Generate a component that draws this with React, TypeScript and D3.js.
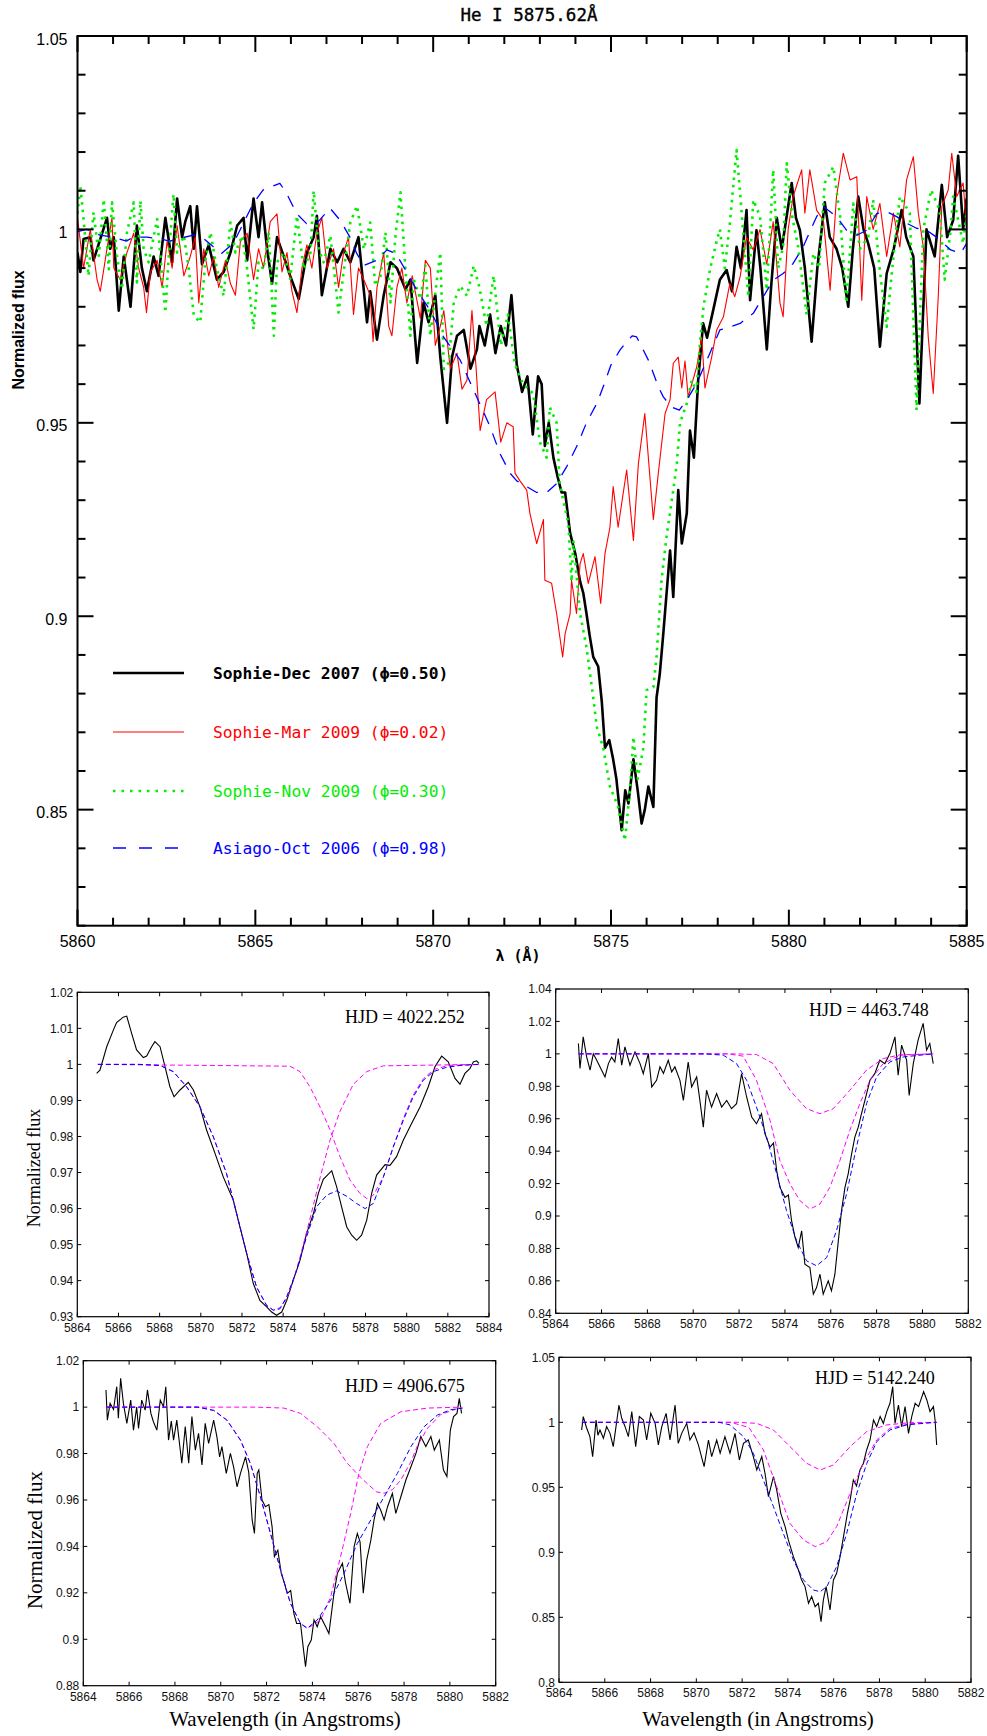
import * as d3 from 'd3'

type Pt = [number, number]

// ---- top panel: He I 5875.62 spectra [wavelength (Å), normalized flux]
const dec2007: Pt[] = [
  [5860.0, 0.994], [5860.08, 0.989], [5860.17, 0.9975], [5860.36, 0.998], [5860.45, 0.992], [5860.64, 0.9975],
  [5860.83, 1.003], [5860.92, 0.995], [5861.02, 0.998], [5861.16, 0.979], [5861.3, 0.993], [5861.49, 0.98],
  [5861.67, 1.001], [5861.81, 0.99], [5861.95, 0.984], [5862.14, 0.993], [5862.28, 0.988], [5862.47, 1.003],
  [5862.66, 0.9915], [5862.8, 1.008], [5862.94, 0.998], [5863.03, 1.002], [5863.17, 1.006], [5863.27, 0.995],
  [5863.36, 1.006], [5863.5, 0.991], [5863.69, 0.996], [5863.92, 0.987], [5864.11, 0.989], [5864.3, 0.994],
  [5864.49, 1.001], [5864.67, 1.003], [5864.77, 0.992], [5864.95, 1.008], [5865.09, 0.998], [5865.19, 1.007],
  [5865.33, 0.995], [5865.47, 0.986], [5865.61, 0.998], [5865.8, 0.993], [5865.98, 0.988], [5866.22, 0.982],
  [5866.45, 0.994], [5866.64, 0.998], [5866.73, 1.0035], [5866.87, 0.983], [5867.11, 0.995], [5867.3, 0.9915],
  [5867.48, 0.995], [5867.67, 0.9915], [5867.9, 0.998], [5868.14, 0.976], [5868.23, 0.984], [5868.42, 0.9715],
  [5868.61, 0.983], [5868.8, 0.9915], [5868.98, 0.99], [5869.22, 0.9845], [5869.36, 0.987], [5869.55, 0.9655],
  [5869.73, 0.981], [5869.87, 0.976], [5870.06, 0.983], [5870.2, 0.967], [5870.39, 0.95], [5870.53, 0.967],
  [5870.67, 0.9725], [5870.86, 0.974], [5871.05, 0.964], [5871.23, 0.969], [5871.3, 0.975], [5871.45, 0.97],
  [5871.6, 0.978], [5871.75, 0.968], [5871.9, 0.975], [5872.05, 0.97], [5872.2, 0.983], [5872.35, 0.965],
  [5872.5, 0.958], [5872.65, 0.962], [5872.8, 0.947], [5872.95, 0.962], [5873.05, 0.96], [5873.14, 0.944],
  [5873.25, 0.95], [5873.38, 0.941], [5873.5, 0.936], [5873.61, 0.932], [5873.71, 0.932], [5873.85, 0.9215],
  [5874.0, 0.916], [5874.13, 0.909], [5874.22, 0.906], [5874.31, 0.9007], [5874.4, 0.895], [5874.5, 0.8895],
  [5874.64, 0.887], [5874.74, 0.878], [5874.83, 0.866], [5874.95, 0.868], [5875.06, 0.863], [5875.15, 0.858],
  [5875.3, 0.8447], [5875.4, 0.855], [5875.49, 0.8516], [5875.63, 0.863], [5875.75, 0.855], [5875.86, 0.8464],
  [5875.95, 0.85], [5876.05, 0.856], [5876.19, 0.8507], [5876.28, 0.879], [5876.37, 0.885], [5876.47, 0.8955],
  [5876.66, 0.917], [5876.75, 0.905], [5876.89, 0.9326], [5876.99, 0.9188], [5877.13, 0.9266], [5877.22, 0.948],
  [5877.33, 0.941], [5877.45, 0.961], [5877.59, 0.9757], [5877.7, 0.972], [5877.87, 0.979], [5878.06, 0.987],
  [5878.25, 0.9895], [5878.4, 0.984], [5878.53, 0.9955], [5878.65, 0.99], [5878.81, 1.005], [5878.91, 0.9817],
  [5879.09, 0.9998], [5879.2, 0.99], [5879.38, 0.969], [5879.5, 0.985], [5879.66, 1.003], [5879.8, 0.995],
  [5880.08, 1.012], [5880.2, 1.003], [5880.31, 0.9998], [5880.45, 0.99], [5880.64, 0.971], [5880.8, 0.99],
  [5881.01, 1.007], [5881.15, 0.998], [5881.34, 0.995], [5881.5, 0.99], [5881.67, 0.98], [5881.8, 0.995],
  [5881.95, 1.0085], [5882.1, 1.0], [5882.23, 0.9964], [5882.4, 0.99], [5882.56, 0.9697], [5882.75, 0.9886],
  [5882.95, 0.995], [5883.17, 1.005], [5883.3, 0.998], [5883.5, 0.993], [5883.67, 0.955], [5883.87, 1.0],
  [5884.1, 0.993], [5884.3, 1.0115], [5884.45, 0.998], [5884.62, 1.0024], [5884.76, 1.019], [5884.9, 1.0],
  [5885.0, 1.008],
]

const mar2009: Pt[] = [
  [5860.0, 1.003], [5860.17, 0.99], [5860.36, 1.0], [5860.55, 0.987], [5860.64, 0.984], [5860.83, 0.995],
  [5860.97, 1.003], [5861.02, 0.99], [5861.2, 0.987], [5861.39, 0.994], [5861.58, 0.999], [5861.72, 0.99],
  [5861.86, 0.985], [5861.94, 0.9785], [5862.05, 0.989], [5862.24, 0.992], [5862.38, 0.985], [5862.52, 0.997],
  [5862.66, 0.99], [5862.8, 1.001], [5862.99, 0.988], [5863.17, 0.993], [5863.31, 0.998], [5863.41, 0.981],
  [5863.55, 0.995], [5863.69, 0.988], [5863.83, 0.993], [5863.97, 0.985], [5864.16, 0.992], [5864.3, 0.986],
  [5864.44, 0.983], [5864.58, 0.997], [5864.77, 0.999], [5864.95, 0.987], [5865.09, 0.995], [5865.23, 0.99],
  [5865.42, 1.002], [5865.61, 1.004], [5865.75, 0.989], [5865.89, 0.994], [5866.03, 0.984], [5866.17, 0.9785],
  [5866.31, 0.99], [5866.45, 0.996], [5866.59, 0.99], [5866.73, 0.999], [5866.87, 1.003], [5867.02, 0.99],
  [5867.2, 0.995], [5867.34, 0.985], [5867.48, 0.994], [5867.62, 0.998], [5867.76, 0.978], [5867.9, 0.99],
  [5868.05, 0.987], [5868.23, 0.983], [5868.31, 0.971], [5868.42, 0.985], [5868.61, 0.994], [5868.75, 0.975],
  [5868.84, 0.9725], [5868.98, 0.985], [5869.12, 0.99], [5869.26, 0.981], [5869.41, 0.988], [5869.64, 0.977],
  [5869.78, 0.992], [5869.92, 0.99], [5870.06, 0.97], [5870.2, 0.975], [5870.3, 0.979], [5870.48, 0.964],
  [5870.67, 0.968], [5870.81, 0.9587], [5870.95, 0.961], [5871.09, 0.979], [5871.2, 0.965], [5871.32, 0.948],
  [5871.5, 0.956], [5871.74, 0.958], [5871.9, 0.945], [5872.07, 0.95], [5872.25, 0.949], [5872.3, 0.937],
  [5872.44, 0.935], [5872.63, 0.9326], [5872.72, 0.9266], [5872.91, 0.9188], [5873.1, 0.925], [5873.14, 0.9093],
  [5873.33, 0.9085], [5873.47, 0.9007], [5873.56, 0.8947], [5873.64, 0.8895], [5873.71, 0.8955], [5873.85, 0.9007],
  [5873.89, 0.9093], [5874.03, 0.9007], [5874.13, 0.9136], [5874.22, 0.9162], [5874.36, 0.9085], [5874.55, 0.9154],
  [5874.71, 0.9033], [5874.83, 0.9162], [5874.97, 0.923], [5875.06, 0.9335], [5875.2, 0.923], [5875.44, 0.9378],
  [5875.63, 0.9196], [5875.77, 0.9395], [5875.95, 0.9524], [5876.19, 0.925], [5876.33, 0.937], [5876.52, 0.9524],
  [5876.66, 0.956], [5876.75, 0.9654], [5876.89, 0.967], [5876.99, 0.959], [5877.08, 0.966], [5877.17, 0.9567],
  [5877.41, 0.9645], [5877.55, 0.9722], [5877.64, 0.959], [5877.83, 0.967], [5877.97, 0.974], [5878.16, 0.9774],
  [5878.34, 0.986], [5878.48, 0.9826], [5878.63, 0.9878], [5878.81, 0.998], [5879.0, 0.9947], [5879.19, 1.0],
  [5879.38, 0.991], [5879.56, 1.002], [5879.75, 0.981], [5879.84, 0.9774], [5879.98, 1.0], [5880.12, 1.0085],
  [5880.36, 1.0154], [5880.45, 1.0042], [5880.59, 1.0154], [5880.78, 1.005], [5880.97, 1.0024], [5881.16, 0.9843],
  [5881.34, 1.0085], [5881.53, 1.0197], [5881.72, 1.0128], [5881.91, 1.0136], [5882.05, 0.9817], [5882.19, 1.0085],
  [5882.37, 1.0], [5882.56, 1.0067], [5882.75, 0.993], [5882.94, 1.0042], [5883.12, 0.9955], [5883.31, 1.0128],
  [5883.5, 1.0188], [5883.64, 1.0042], [5883.78, 0.9955], [5883.92, 0.972], [5884.06, 0.9576], [5884.2, 0.9826],
  [5884.3, 1.0059], [5884.48, 1.0102], [5884.58, 1.0197], [5884.72, 1.0085], [5884.9, 1.012], [5885.0, 1.0],
]

const nov2009: Pt[] = [
  [5860.0, 1.004], [5860.08, 1.0113], [5860.17, 1.0027], [5860.31, 0.988], [5860.45, 1.0044], [5860.6, 0.9932],
  [5860.74, 1.0078], [5860.88, 0.9897], [5860.97, 1.007], [5861.11, 0.9932], [5861.25, 0.9846], [5861.39, 0.9992],
  [5861.58, 1.007], [5861.67, 0.9863], [5861.77, 1.0074], [5861.86, 0.9949], [5862.0, 0.9915], [5862.24, 1.0027],
  [5862.47, 0.9785], [5862.56, 0.9923], [5862.7, 1.0091], [5862.8, 0.994], [5862.99, 0.9984], [5863.13, 0.9897],
  [5863.27, 0.9777], [5863.45, 0.976], [5863.6, 0.9923], [5863.74, 0.9992], [5863.92, 0.9897], [5864.11, 0.9828],
  [5864.3, 1.0018], [5864.44, 0.994], [5864.63, 0.9984], [5864.77, 0.9897], [5864.95, 0.9742], [5865.09, 0.9915],
  [5865.23, 0.9897], [5865.38, 0.9992], [5865.52, 0.9725], [5865.61, 0.9915], [5865.8, 0.994], [5865.98, 0.9872],
  [5866.17, 1.0035], [5866.36, 0.9897], [5866.55, 0.994], [5866.64, 1.01], [5866.78, 0.9949], [5866.92, 0.9915],
  [5867.11, 0.9984], [5867.34, 0.9785], [5867.48, 0.9889], [5867.67, 1.0018], [5867.86, 1.0061], [5868.05, 0.9949],
  [5868.23, 1.0018], [5868.37, 0.9854], [5868.52, 0.988], [5868.66, 0.9992], [5868.8, 0.9811], [5868.94, 0.9984],
  [5869.08, 1.0096], [5869.22, 0.9897], [5869.36, 0.9725], [5869.45, 0.9872], [5869.64, 0.982], [5869.78, 0.9906],
  [5869.92, 0.9725], [5870.06, 0.9837], [5870.2, 0.994], [5870.3, 0.9639], [5870.44, 0.9656], [5870.58, 0.9811],
  [5870.76, 0.9854], [5870.95, 0.9828], [5871.14, 0.9906], [5871.3, 0.985], [5871.5, 0.975], [5871.7, 0.988],
  [5871.9, 0.97], [5872.1, 0.978], [5872.3, 0.965], [5872.53, 0.96], [5872.81, 0.9576], [5873.0, 0.945],
  [5873.19, 0.941], [5873.28, 0.954], [5873.47, 0.95], [5873.56, 0.934], [5873.8, 0.924], [5873.89, 0.909],
  [5873.94, 0.9196], [5874.13, 0.9007], [5874.31, 0.892], [5874.5, 0.879], [5874.6, 0.8714], [5874.78, 0.866],
  [5874.97, 0.856], [5875.2, 0.8507], [5875.39, 0.842], [5875.53, 0.8547], [5875.63, 0.8688], [5875.75, 0.858],
  [5875.91, 0.866], [5876.0, 0.8809], [5876.19, 0.8817], [5876.28, 0.8895], [5876.42, 0.9093], [5876.56, 0.9205],
  [5876.75, 0.9326], [5876.85, 0.9395], [5876.94, 0.95], [5877.13, 0.955], [5877.27, 0.961], [5877.4, 0.958],
  [5877.5, 0.9705], [5877.6, 0.98], [5877.78, 0.9895], [5877.97, 0.997], [5878.06, 1.0], [5878.2, 0.99],
  [5878.34, 1.0015], [5878.53, 1.0205], [5878.63, 1.0093], [5878.86, 0.9826], [5879.0, 1.0076], [5879.19, 1.0033],
  [5879.38, 0.9843], [5879.56, 1.0154], [5879.7, 0.99], [5879.84, 0.9955], [5879.94, 1.0171], [5880.1, 1.003],
  [5880.26, 0.9955], [5880.5, 0.978], [5880.69, 0.9938], [5880.85, 0.99], [5881.01, 1.012], [5881.25, 1.0162],
  [5881.44, 1.0033], [5881.62, 0.981], [5881.81, 1.0067], [5882.0, 0.995], [5882.23, 0.998], [5882.37, 1.0076],
  [5882.55, 0.99], [5882.75, 0.9748], [5882.94, 0.993], [5883.12, 1.0085], [5883.4, 1.0042], [5883.59, 0.9533],
  [5883.78, 1.0], [5884.0, 1.0102], [5884.24, 1.005], [5884.38, 0.987], [5884.55, 1.0], [5884.62, 1.0085],
  [5884.9, 0.9964], [5885.0, 1.005],
]

const oct2006: Pt[] = [
  [5860.0, 0.9994], [5860.26, 1.0], [5860.63, 0.9985], [5861.0, 0.998], [5861.38, 0.997], [5861.57, 0.998],
  [5861.95, 0.998], [5862.23, 0.9977], [5862.6, 0.997], [5862.88, 0.9977], [5863.26, 0.9985], [5863.54, 0.9977],
  [5863.82, 0.9955], [5864.05, 0.9938], [5864.38, 0.9964], [5864.66, 1.0015], [5864.94, 1.0067], [5865.22, 1.0102],
  [5865.69, 1.0119], [5865.88, 1.0093], [5866.16, 1.0041], [5866.44, 1.0015], [5866.72, 1.0015], [5867.1, 1.0055],
  [5867.38, 1.0024], [5867.66, 0.998], [5867.85, 0.9938], [5868.05, 0.9907], [5868.41, 0.992], [5868.7, 0.9947],
  [5868.95, 0.9938], [5869.22, 0.9895], [5869.54, 0.9843], [5869.92, 0.979], [5870.29, 0.9722], [5870.76, 0.9662],
  [5871.14, 0.9584], [5871.6, 0.949], [5871.88, 0.942], [5872.16, 0.937], [5872.35, 0.935], [5872.63, 0.9335],
  [5872.91, 0.932], [5873.19, 0.932], [5873.47, 0.9343], [5873.75, 0.9386], [5874.03, 0.9438], [5874.31, 0.95],
  [5874.6, 0.955], [5874.78, 0.9593], [5875.0, 0.965], [5875.25, 0.9688], [5875.44, 0.971], [5875.6, 0.9725],
  [5875.72, 0.9722], [5875.86, 0.9697], [5876.05, 0.9662], [5876.19, 0.9628], [5876.33, 0.9593], [5876.47, 0.9567],
  [5876.7, 0.9541], [5876.92, 0.9533], [5877.13, 0.9559], [5877.41, 0.9602], [5877.78, 0.968], [5878.06, 0.974],
  [5878.34, 0.9748], [5878.63, 0.9757], [5879.0, 0.9783], [5879.28, 0.9826], [5879.56, 0.9869], [5879.84, 0.9886],
  [5880.12, 0.9912], [5880.4, 0.9955], [5880.78, 1.0033], [5880.97, 1.0059], [5881.34, 1.0033], [5881.62, 0.9998],
  [5881.91, 0.9985], [5882.19, 0.9998], [5882.47, 1.0041], [5882.75, 1.0046], [5883.03, 1.0033], [5883.31, 1.0016],
  [5883.59, 1.0003], [5883.87, 0.9998], [5884.15, 0.998], [5884.55, 0.9947], [5884.83, 0.9938], [5885.0, 0.9964],
]

const mainTitle = 'He I 5875.62Å'
const mainXTicks = [5860, 5865, 5870, 5875, 5880, 5885]
const mainYTicks = [0.85, 0.9, 0.95, 1, 1.05]
const legendLabels = [
  'Sophie-Dec 2007 (ϕ=0.50)',
  'Sophie-Mar 2009 (ϕ=0.02)',
  'Sophie-Nov 2009 (ϕ=0.30)',
  'Asiago-Oct 2006 (ϕ=0.98)',
]

// ---- panel A, HJD 4022.252
const obsA: Pt[] = [
  [5864.94, 0.9975], [5865.1, 0.9984], [5865.43, 1.0049], [5865.75, 1.0095], [5865.91, 1.0116], [5866.23, 1.0131],
  [5866.4, 1.0134], [5866.64, 1.0086], [5866.88, 1.004], [5867.21, 1.0019], [5867.37, 1.0023], [5867.61, 1.0049],
  [5867.77, 1.0063], [5868.02, 1.0049], [5868.26, 0.9994], [5868.5, 0.9938], [5868.7, 0.991], [5868.99, 0.9929],
  [5869.39, 0.995], [5869.64, 0.9929], [5869.96, 0.9882], [5870.28, 0.9818], [5870.69, 0.9753], [5871.09, 0.9688],
  [5871.58, 0.9623], [5871.9, 0.9549], [5872.23, 0.9475], [5872.55, 0.9392], [5872.87, 0.9345], [5873.2, 0.9327],
  [5873.44, 0.9313], [5873.68, 0.9304], [5873.93, 0.9313], [5874.17, 0.9345], [5874.49, 0.9401], [5874.82, 0.9457],
  [5875.14, 0.9531], [5875.47, 0.9586], [5875.71, 0.9642], [5875.95, 0.9681], [5876.36, 0.9705], [5876.6, 0.966],
  [5876.84, 0.9605], [5877.09, 0.9549], [5877.33, 0.9526], [5877.57, 0.9512], [5877.81, 0.9526], [5878.06, 0.9568],
  [5878.3, 0.9642], [5878.54, 0.9693], [5878.95, 0.9722], [5879.19, 0.972], [5879.51, 0.9744], [5879.84, 0.979],
  [5880.24, 0.9836], [5880.65, 0.9882], [5881.05, 0.9938], [5881.38, 0.9994], [5881.7, 1.0023], [5882.02, 1.0007],
  [5882.35, 0.9961], [5882.59, 0.9945], [5882.83, 0.9975], [5883.08, 0.9989], [5883.24, 1.0007], [5883.4, 1.001],
  [5883.51, 1.0003],
]
const fitA: Pt[] = [
  [5865.0, 1.0], [5867.0, 1.0], [5868.02, 0.9997], [5868.66, 0.998], [5869.31, 0.9938], [5869.96, 0.9882],
  [5870.61, 0.9799], [5871.25, 0.9697], [5871.74, 0.9586], [5872.23, 0.9475], [5872.71, 0.9382], [5873.2, 0.9331],
  [5873.52, 0.9318], [5873.85, 0.9322], [5874.17, 0.9355], [5874.66, 0.9429], [5875.14, 0.9522], [5875.63, 0.9605],
  [5876.11, 0.9637], [5876.6, 0.9649], [5877.09, 0.9634], [5877.57, 0.9614], [5877.98, 0.96], [5878.38, 0.9614],
  [5878.87, 0.9688], [5879.35, 0.9771], [5879.84, 0.9845], [5880.32, 0.991], [5880.81, 0.9956], [5881.3, 0.998],
  [5881.94, 0.9992], [5882.59, 0.9997], [5883.48, 1.0],
]
const compA1: Pt[] = [
  [5865.0, 1.0], [5867.0, 1.0], [5868.02, 0.9997], [5868.66, 0.998], [5869.31, 0.9938], [5869.96, 0.9882],
  [5870.61, 0.9799], [5871.25, 0.9697], [5871.74, 0.9586], [5872.23, 0.9475], [5872.71, 0.9382], [5873.2, 0.9331],
  [5873.52, 0.9318], [5873.85, 0.9325], [5874.17, 0.935], [5874.49, 0.94], [5874.82, 0.9465], [5875.14, 0.9535],
  [5875.47, 0.961], [5875.79, 0.9685], [5876.28, 0.979], [5876.76, 0.987], [5877.41, 0.9945], [5878.06, 0.998],
  [5878.87, 0.9996], [5883.5, 1.0],
]
const compA2: Pt[] = [
  [5865.0, 1.0], [5874.33, 0.9995], [5874.82, 0.998], [5875.3, 0.9938], [5875.79, 0.9882], [5876.28, 0.9818],
  [5876.76, 0.9744], [5877.25, 0.9679], [5877.73, 0.9642], [5878.06, 0.9628], [5878.38, 0.9637], [5878.87, 0.9688],
  [5879.35, 0.9771], [5879.84, 0.985], [5880.32, 0.9915], [5880.81, 0.996], [5881.3, 0.9985], [5882.0, 0.9997],
  [5883.5, 1.0],
]

// ---- panel B, HJD 4463.748
const obsB: Pt[] = [
  [5864.99, 1.0064], [5865.06, 0.991], [5865.2, 1.0105], [5865.35, 0.9981], [5865.5, 0.99], [5865.64, 1.0], [5865.79, 0.9961],
  [5866.0, 0.99], [5866.15, 0.9858], [5866.3, 0.994], [5866.44, 0.998], [5866.58, 0.995], [5866.73, 1.0095], [5866.88, 0.993],
  [5867.02, 1.0043], [5867.24, 0.993], [5867.46, 1.0012], [5867.68, 0.994], [5867.82, 0.9878], [5868.04, 1.0002],
  [5868.19, 0.9796], [5868.4, 0.9837], [5868.55, 0.992], [5868.7, 0.988], [5868.91, 0.996], [5869.06, 0.9889],
  [5869.2, 0.992], [5869.42, 0.9837], [5869.57, 0.9713], [5869.78, 0.995], [5869.93, 0.9796], [5870.15, 0.9858],
  [5870.29, 0.9713], [5870.44, 0.9548], [5870.58, 0.9776], [5870.8, 0.9672], [5871.02, 0.9755], [5871.24, 0.9672],
  [5871.46, 0.9713], [5871.67, 0.9662], [5871.89, 0.9693], [5872.11, 0.9878], [5872.33, 0.9734], [5872.55, 0.961],
  [5872.76, 0.9569], [5872.98, 0.9631], [5873.13, 0.9507], [5873.35, 0.9425], [5873.5, 0.945], [5873.64, 0.928],
  [5873.78, 0.9178], [5874.0, 0.9115], [5874.15, 0.913], [5874.29, 0.8971], [5874.44, 0.8868], [5874.58, 0.8806],
  [5874.73, 0.8909], [5874.87, 0.8703], [5875.09, 0.8682], [5875.24, 0.8518], [5875.38, 0.8559], [5875.53, 0.8641],
  [5875.67, 0.8518], [5875.89, 0.86], [5876.03, 0.8538], [5876.18, 0.8641], [5876.33, 0.8847], [5876.47, 0.9033],
  [5876.62, 0.9177], [5876.76, 0.926], [5876.91, 0.9383], [5877.05, 0.9487], [5877.2, 0.9548], [5877.34, 0.9631],
  [5877.49, 0.9713], [5877.71, 0.9837], [5877.92, 0.9878], [5878.14, 0.9961], [5878.36, 0.994], [5878.58, 1.0002],
  [5878.8, 1.0105], [5878.94, 0.9868], [5879.09, 1.0054], [5879.31, 0.996], [5879.42, 0.9744], [5879.6, 0.994],
  [5879.81, 1.0085], [5880.03, 1.0188], [5880.18, 1.0023], [5880.32, 1.0064], [5880.47, 0.994],
]
const fitB: Pt[] = [
  [5865.0, 1.0], [5870.5, 1.0], [5871.31, 0.9992], [5871.89, 0.994], [5872.33, 0.9837], [5872.76, 0.9672],
  [5873.2, 0.9487], [5873.64, 0.926], [5874.07, 0.9033], [5874.51, 0.8847], [5874.94, 0.8724], [5875.38, 0.8693],
  [5875.82, 0.8744], [5876.25, 0.8909], [5876.69, 0.9136], [5877.12, 0.9425], [5877.56, 0.9693], [5878.0, 0.9858],
  [5878.58, 0.995], [5879.16, 0.9981], [5880.03, 0.9994], [5880.47, 1.0],
]
const compB1: Pt[] = [
  [5865.0, 1.0], [5871.5, 1.0], [5872.18, 0.9986], [5872.76, 0.9837], [5873.35, 0.959], [5873.78, 0.9342],
  [5874.22, 0.9198], [5874.65, 0.9095], [5875.09, 0.9043], [5875.53, 0.9074], [5875.96, 0.9177], [5876.4, 0.9342],
  [5876.83, 0.9528], [5877.27, 0.9693], [5877.71, 0.9837], [5878.29, 0.994], [5879.02, 0.9992], [5880.47, 1.0],
]
const compB2: Pt[] = [
  [5865.0, 1.0], [5871.8, 1.0], [5872.76, 0.9996], [5873.49, 0.994], [5874.22, 0.9775], [5874.94, 0.9662],
  [5875.53, 0.9631], [5876.11, 0.9662], [5876.83, 0.9775], [5877.56, 0.99], [5878.29, 0.9971], [5879.02, 0.9994],
  [5880.47, 1.0],
]

// ---- panel C, HJD 4906.675
const obsC: Pt[] = [
  [5864.99, 1.0074], [5865.05, 0.9944], [5865.17, 1.0016], [5865.32, 0.999], [5865.46, 1.0088], [5865.53, 0.9952],
  [5865.63, 1.0124], [5865.75, 1.0016], [5865.9, 0.993], [5866.07, 1.003], [5866.19, 0.9901], [5866.33, 1.0],
  [5866.41, 0.9908], [5866.55, 1.003], [5866.7, 0.9987], [5866.8, 1.0074], [5866.95, 0.9973], [5867.06, 0.9937],
  [5867.21, 0.9901], [5867.36, 1.003], [5867.5, 1.0002], [5867.6, 1.0088], [5867.72, 0.9858], [5867.84, 0.994],
  [5867.94, 0.9858], [5868.08, 0.9944], [5868.3, 0.9758], [5868.45, 0.9916], [5868.6, 0.9758], [5868.74, 0.9959],
  [5868.89, 0.9815], [5869.03, 0.9887], [5869.18, 0.9751], [5869.32, 0.993], [5869.47, 0.9844], [5869.69, 0.9944],
  [5869.83, 0.9873], [5869.95, 0.9786], [5870.05, 0.983], [5870.24, 0.9715], [5870.42, 0.9801], [5870.56, 0.9743],
  [5870.71, 0.9657], [5870.86, 0.9715], [5871.08, 0.9786], [5871.22, 0.972], [5871.37, 0.9514], [5871.47, 0.9456],
  [5871.59, 0.9715], [5871.66, 0.9729], [5871.8, 0.96], [5871.95, 0.9571], [5872.1, 0.958], [5872.24, 0.9485],
  [5872.34, 0.9356], [5872.49, 0.9384], [5872.64, 0.9284], [5872.78, 0.9241], [5872.9, 0.9198], [5873.05, 0.921],
  [5873.19, 0.9111], [5873.31, 0.9068], [5873.48, 0.9068], [5873.63, 0.8939], [5873.7, 0.8882], [5873.8, 0.8968],
  [5873.95, 0.8997], [5874.07, 0.9083], [5874.21, 0.9054], [5874.36, 0.9097], [5874.58, 0.9054], [5874.72, 0.9025],
  [5874.94, 0.9198], [5875.09, 0.9284], [5875.31, 0.9327], [5875.45, 0.9241], [5875.64, 0.9155], [5875.82, 0.9399],
  [5875.96, 0.9456], [5876.08, 0.942], [5876.22, 0.9198], [5876.37, 0.9341], [5876.55, 0.9427], [5876.69, 0.9514],
  [5876.84, 0.9585], [5876.98, 0.9557], [5877.13, 0.9514], [5877.28, 0.9571], [5877.49, 0.9628], [5877.64, 0.9542],
  [5877.86, 0.9614], [5878.08, 0.9686], [5878.3, 0.9743], [5878.52, 0.9801], [5878.73, 0.9873], [5878.95, 0.983],
  [5879.17, 0.9873], [5879.32, 0.9815], [5879.54, 0.9858], [5879.72, 0.9729], [5879.87, 0.9701], [5880.02, 0.9901],
  [5880.16, 0.9959], [5880.31, 0.9973], [5880.41, 1.0038], [5880.51, 0.9973],
]
const fitC: Pt[] = [
  [5865.0, 1.0], [5869.0, 1.0], [5869.69, 0.9986], [5870.27, 0.9944], [5870.86, 0.9858], [5871.29, 0.9758],
  [5871.73, 0.9614], [5872.17, 0.9456], [5872.61, 0.9298], [5873.04, 0.9155], [5873.48, 0.9068], [5873.77, 0.9047],
  [5874.21, 0.9083], [5874.8, 0.9169], [5875.38, 0.9284], [5875.96, 0.9413], [5876.55, 0.9514], [5877.13, 0.9614],
  [5877.71, 0.9715], [5878.3, 0.983], [5878.88, 0.9916], [5879.46, 0.9966], [5880.04, 0.9989], [5880.56, 0.9996],
]
const compC1: Pt[] = [
  [5865.0, 1.0], [5869.0, 1.0], [5869.69, 0.9986], [5870.27, 0.9944], [5870.86, 0.9858], [5871.29, 0.9758],
  [5871.73, 0.9614], [5872.17, 0.9456], [5872.61, 0.9298], [5873.04, 0.9155], [5873.48, 0.9068], [5873.8, 0.9048],
  [5874.36, 0.9083], [5874.8, 0.9184], [5875.23, 0.9356], [5875.67, 0.9542], [5876.03, 0.9715], [5876.4, 0.983],
  [5876.98, 0.993], [5877.86, 0.998], [5879.03, 0.9996], [5880.5, 1.0],
]
const compC2: Pt[] = [
  [5865.0, 1.0], [5871.5, 1.0], [5872.75, 0.9996], [5873.48, 0.9973], [5874.21, 0.9916], [5874.94, 0.9844],
  [5875.52, 0.9758], [5876.03, 0.9705], [5876.4, 0.967], [5876.8, 0.9635], [5877.13, 0.9629], [5877.5, 0.9645],
  [5877.86, 0.9686], [5878.3, 0.9765], [5878.59, 0.9835], [5879.03, 0.991], [5879.6, 0.9968], [5880.5, 1.0],
]

// ---- panel D, HJD 5142.240
const obsD: Pt[] = [
  [5864.99, 0.9941], [5865.06, 1.0044], [5865.2, 0.996], [5865.35, 0.989], [5865.47, 0.9736], [5865.62, 1.0018],
  [5865.7, 0.99], [5865.79, 0.9941], [5865.94, 0.9877], [5866.08, 0.9967], [5866.23, 0.9915], [5866.37, 0.9813],
  [5866.49, 0.9967], [5866.62, 1.0133], [5866.74, 1.0031], [5866.88, 0.997], [5867.03, 0.989], [5867.18, 1.0082],
  [5867.35, 0.9813], [5867.51, 1.0044], [5867.69, 1.0018], [5867.83, 0.9864], [5868.01, 1.0069], [5868.2, 0.9992],
  [5868.34, 0.9826], [5868.49, 0.9967], [5868.68, 1.0069], [5868.85, 0.9864], [5869.07, 1.0133], [5869.21, 0.9838],
  [5869.36, 0.9915], [5869.58, 0.9992], [5869.72, 0.9864], [5869.9, 0.992], [5870.09, 0.9826], [5870.34, 0.9659],
  [5870.53, 0.9864], [5870.67, 0.9736], [5870.89, 0.9864], [5871.04, 0.9762], [5871.25, 0.989], [5871.47, 0.9762],
  [5871.69, 0.9915], [5871.88, 0.971], [5872.06, 0.9838], [5872.27, 0.9864], [5872.49, 0.9736], [5872.64, 0.9633],
  [5872.86, 0.9736], [5873.0, 0.9608], [5873.15, 0.9428], [5873.37, 0.9582], [5873.51, 0.948], [5873.69, 0.93],
  [5873.88, 0.9197], [5874.02, 0.9095], [5874.24, 0.8967], [5874.46, 0.8864], [5874.6, 0.8787], [5874.75, 0.8736],
  [5874.9, 0.8608], [5875.04, 0.866], [5875.19, 0.8582], [5875.33, 0.8608], [5875.45, 0.8467], [5875.55, 0.8634],
  [5875.67, 0.8736], [5875.84, 0.8556], [5875.99, 0.8787], [5876.13, 0.8838], [5876.28, 0.8967], [5876.43, 0.912],
  [5876.6, 0.93], [5876.72, 0.9403], [5876.86, 0.9556], [5877.0, 0.951], [5877.15, 0.9633], [5877.3, 0.9685],
  [5877.44, 0.9787], [5877.59, 0.9864], [5877.74, 1.0018], [5877.88, 0.9967], [5878.03, 1.0044], [5878.17, 0.9992],
  [5878.32, 1.0082], [5878.46, 1.0146], [5878.58, 1.0274], [5878.68, 0.9992], [5878.83, 1.0133], [5878.97, 0.9967],
  [5879.12, 1.0121], [5879.27, 0.9915], [5879.41, 1.0044], [5879.56, 1.0146], [5879.71, 1.0121], [5879.93, 1.0236],
  [5880.07, 1.0172], [5880.21, 1.0082], [5880.36, 1.0121], [5880.43, 1.0018], [5880.5, 0.9826],
]
const fitD: Pt[] = [
  [5865.0, 1.0], [5871.0, 1.0], [5871.47, 0.998], [5872.06, 0.989], [5872.49, 0.9762], [5872.93, 0.9556],
  [5873.37, 0.9351], [5873.8, 0.9146], [5874.24, 0.8941], [5874.68, 0.8787], [5875.11, 0.871], [5875.41, 0.8697],
  [5875.7, 0.8736], [5876.13, 0.889], [5876.57, 0.9146], [5877.01, 0.9454], [5877.45, 0.9685], [5877.88, 0.9851],
  [5878.46, 0.9941], [5879.19, 0.998], [5879.93, 0.9992], [5880.5, 1.0],
]
const compD1: Pt[] = [
  [5865.0, 1.0], [5871.5, 1.0], [5872.3, 0.996], [5872.93, 0.9787], [5873.51, 0.9505], [5874.09, 0.9223],
  [5874.68, 0.9095], [5875.19, 0.9044], [5875.7, 0.9082], [5876.13, 0.9197], [5876.72, 0.9454], [5877.3, 0.9685],
  [5877.88, 0.9864], [5878.46, 0.9954], [5879.34, 0.999], [5880.5, 1.0],
]
const compD2: Pt[] = [
  [5865.0, 1.0], [5871.8, 1.0], [5872.64, 0.9992], [5873.37, 0.9941], [5874.09, 0.9813], [5874.82, 0.9685],
  [5875.41, 0.9633], [5875.99, 0.9672], [5876.72, 0.9813], [5877.44, 0.9928], [5878.32, 0.998], [5879.34, 0.9997],
  [5880.5, 1.0],
]

const ticksA = { x: [5864, 5866, 5868, 5870, 5872, 5874, 5876, 5878, 5880, 5882, 5884], y: [0.93, 0.94, 0.95, 0.96, 0.97, 0.98, 0.99, 1, 1.01, 1.02] }
const ticksB = { x: [5864, 5866, 5868, 5870, 5872, 5874, 5876, 5878, 5880, 5882], y: [0.84, 0.86, 0.88, 0.9, 0.92, 0.94, 0.96, 0.98, 1, 1.02, 1.04] }
const ticksC = { x: [5864, 5866, 5868, 5870, 5872, 5874, 5876, 5878, 5880, 5882], y: [0.88, 0.9, 0.92, 0.94, 0.96, 0.98, 1, 1.02] }
const ticksD = { x: [5864, 5866, 5868, 5870, 5872, 5874, 5876, 5878, 5880, 5882], y: [0.8, 0.85, 0.9, 0.95, 1, 1.05] }

const fmt = (v: number) => String(+v.toFixed(2))
const sans = 'Liberation Sans, Arial, sans-serif'
const serif = 'Liberation Serif, Times New Roman, serif'
const mono = 'DejaVu Sans Mono, monospace'

function MainPanel() {
  const left = 77.5, right = 966.7, top = 36, bottom = 925.7
  const x = d3.scaleLinear().domain([5860, 5885]).range([left, right])
  const y = d3.scaleLinear().domain([0.82, 1.05]).range([bottom, top])
  const line = d3.line<Pt>().x((d) => x(d[0])).y((d) => y(d[1]))
  const minorX = x.ticks(25).filter((t) => !mainXTicks.includes(t))
  const minorY = y.ticks(23).filter((t) => !mainYTicks.some((m) => Math.abs(m - t) < 1e-6))
  const legendStyles = [
    { stroke: '#000', width: 2.4, dash: undefined, weight: 'bold' },
    { stroke: '#ff0000', width: 1.2, dash: undefined, weight: 'normal' },
    { stroke: '#00ee00', width: 2.6, dash: '2.5,6', weight: 'normal' },
    { stroke: '#0000ff', width: 1.3, dash: '13,13', weight: 'normal' },
  ]
  const legendY = [673, 732, 791, 848]
  return (
    <g>
      <defs>
        <clipPath id="mainclip">
          <rect x={left} y={top} width={right - left} height={bottom - top} />
        </clipPath>
      </defs>
      <text x={529} y={21} textAnchor="middle" fontFamily={mono} fontSize={17.5} stroke="#000" strokeWidth={0.35}>{mainTitle}</text>
      <g clipPath="url(#mainclip)" fill="none" strokeLinejoin="round">
        <path d={line(dec2007) ?? ''} stroke="#000" strokeWidth={2.6} />
        <path d={line(mar2009) ?? ''} stroke="#ff0000" strokeWidth={1.1} />
        <path d={line(nov2009) ?? ''} stroke="#00ee00" strokeWidth={2.6} strokeDasharray="2.5,5" />
        <path d={line(oct2006) ?? ''} stroke="#0000ff" strokeWidth={1.3} strokeDasharray="12,10" />
      </g>
      <rect x={left} y={top} width={right - left} height={bottom - top} fill="none" stroke="#000" strokeWidth={2} />
      <g stroke="#000" strokeWidth={2}>
        {mainXTicks.map((t) => (
          <g key={'mx' + t}>
            <line x1={x(t)} x2={x(t)} y1={bottom} y2={bottom - 16} />
            <line x1={x(t)} x2={x(t)} y1={top} y2={top + 16} />
          </g>
        ))}
        {minorX.map((t) => (
          <g key={'nx' + t}>
            <line x1={x(t)} x2={x(t)} y1={bottom} y2={bottom - 8} />
            <line x1={x(t)} x2={x(t)} y1={top} y2={top + 8} />
          </g>
        ))}
        {mainYTicks.map((t) => (
          <g key={'my' + t}>
            <line x1={left} x2={left + 16} y1={y(t)} y2={y(t)} />
            <line x1={right} x2={right - 16} y1={y(t)} y2={y(t)} />
          </g>
        ))}
        {minorY.map((t) => (
          <g key={'ny' + t}>
            <line x1={left} x2={left + 8} y1={y(t)} y2={y(t)} />
            <line x1={right} x2={right - 8} y1={y(t)} y2={y(t)} />
          </g>
        ))}
      </g>
      <g fontFamily={sans} fontSize={16} fill="#000">
        {mainXTicks.map((t) => (
          <text key={'lx' + t} x={x(t)} y={bottom + 21} textAnchor="middle">{t}</text>
        ))}
        {mainYTicks.map((t) => (
          <text key={'ly' + t} x={left - 10} y={y(t) + 8.5} textAnchor="end">{fmt(t)}</text>
        ))}
      </g>
      <text x={518} y={961} textAnchor="middle" fontFamily={mono} fontWeight="bold" fontSize={15}>λ (Å)</text>
      <text transform="translate(24,330) rotate(-90)" textAnchor="middle" fontFamily={sans} fontWeight="bold" fontSize={16}>
        Normalized flux
      </text>
      {legendLabels.map((label, i) => {
        const s = legendStyles[i]
        return (
          <g key={label}>
            <line x1={113} x2={184} y1={legendY[i]} y2={legendY[i]} stroke={s.stroke} strokeWidth={s.width} strokeDasharray={s.dash} />
            <text x={213} y={legendY[i] + 6} fontFamily={mono} fontSize={16.3} fontWeight={s.weight} fill={s.stroke}>{label}</text>
          </g>
        )
      })}
    </g>
  )
}

type Box = { left: number; right: number; top: number; bottom: number }

function SmallPanel(props: {
  id: string
  box: Box
  xDomain: [number, number]
  yDomain: [number, number]
  ticks: { x: number[]; y: number[] }
  obs: Pt[]
  fit: Pt[]
  comps: Pt[][]
  hjd: string
  hjdPos: [number, number]
  ylabel?: { x: number; y: number; size: number }
  xlabel?: { x: number; y: number }
}) {
  const { box, ticks } = props
  const x = d3.scaleLinear().domain(props.xDomain).range([box.left, box.right])
  const y = d3.scaleLinear().domain(props.yDomain).range([box.bottom, box.top])
  const line = d3.line<Pt>().x((d) => x(d[0])).y((d) => y(d[1]))
  return (
    <g>
      <defs>
        <clipPath id={props.id}>
          <rect x={box.left} y={box.top} width={box.right - box.left} height={box.bottom - box.top} />
        </clipPath>
      </defs>
      <g clipPath={`url(#${props.id})`} fill="none">
        <path d={line(props.obs) ?? ''} stroke="#000" strokeWidth={1.1} />
        {props.comps.map((c, i) => (
          <path key={i} d={line(c) ?? ''} stroke="#ff00ff" strokeWidth={1} strokeDasharray="5,3" />
        ))}
        <path d={line(props.fit) ?? ''} stroke="#0000ff" strokeWidth={1} strokeDasharray="5,3" />
      </g>
      <rect x={box.left} y={box.top} width={box.right - box.left} height={box.bottom - box.top} fill="none" stroke="#000" strokeWidth={1.2} />
      <g stroke="#000" strokeWidth={1}>
        {ticks.x.map((t) => (
          <g key={'x' + t}>
            <line x1={x(t)} x2={x(t)} y1={box.bottom} y2={box.bottom - 4} />
            <line x1={x(t)} x2={x(t)} y1={box.top} y2={box.top + 4} />
          </g>
        ))}
        {ticks.y.map((t) => (
          <g key={'y' + t}>
            <line x1={box.left} x2={box.left + 4} y1={y(t)} y2={y(t)} />
            <line x1={box.right} x2={box.right - 4} y1={y(t)} y2={y(t)} />
          </g>
        ))}
      </g>
      <g fontFamily={sans} fontSize={12} fill="#111">
        {ticks.x.map((t) => (
          <text key={'lx' + t} x={x(t)} y={box.bottom + 15} textAnchor="middle">{t}</text>
        ))}
        {ticks.y.map((t) => (
          <text key={'ly' + t} x={box.left - 4} y={y(t) + 4.3} textAnchor="end">{fmt(t)}</text>
        ))}
      </g>
      <text x={props.hjdPos[0]} y={props.hjdPos[1]} fontFamily={serif} fontSize={18}>{props.hjd}</text>
      {props.ylabel && (
        <text transform={`translate(${props.ylabel.x},${props.ylabel.y}) rotate(-90)`} textAnchor="middle"
          fontFamily={serif} fontSize={props.ylabel.size}>Normalized flux</text>
      )}
      {props.xlabel && (
        <text x={props.xlabel.x} y={props.xlabel.y} textAnchor="middle" fontFamily={serif} fontSize={21}>
          Wavelength (in Angstroms)
        </text>
      )}
    </g>
  )
}

export default function App() {
  return (
    <svg width={987} height={1736} viewBox="0 0 987 1736"
      style={{ position: 'absolute', left: 0, top: 0, background: '#fff' }}>
      <rect width={987} height={1736} fill="#fff" />
      <MainPanel />
      <SmallPanel id="pa" box={{ left: 77.3, right: 489, top: 992.3, bottom: 1316.7 }} xDomain={[5864, 5884]} yDomain={[0.93, 1.02]}
        ticks={ticksA} obs={obsA} fit={fitA} comps={[compA1, compA2]} hjd="HJD = 4022.252" hjdPos={[345, 1023]}
        ylabel={{ x: 40, y: 1168, size: 18 }} />
      <SmallPanel id="pb" box={{ left: 555.7, right: 968.3, top: 989, bottom: 1313.3 }} xDomain={[5864, 5882]} yDomain={[0.84, 1.04]}
        ticks={ticksB} obs={obsB} fit={fitB} comps={[compB1, compB2]} hjd="HJD = 4463.748" hjdPos={[809, 1016]} />
      <SmallPanel id="pc" box={{ left: 83.3, right: 495.7, top: 1360.7, bottom: 1685.7 }} xDomain={[5864, 5882]} yDomain={[0.88, 1.02]}
        ticks={ticksC} obs={obsC} fit={fitC} comps={[compC1, compC2]} hjd="HJD = 4906.675" hjdPos={[345, 1392]}
        ylabel={{ x: 41.5, y: 1540, size: 21 }} xlabel={{ x: 285, y: 1726 }} />
      <SmallPanel id="pd" box={{ left: 559, right: 971, top: 1357.3, bottom: 1682.3 }} xDomain={[5864, 5882]} yDomain={[0.8, 1.05]}
        ticks={ticksD} obs={obsD} fit={fitD} comps={[compD1, compD2]} hjd="HJD = 5142.240" hjdPos={[815, 1384]}
        xlabel={{ x: 758, y: 1726 }} />
    </svg>
  )
}
